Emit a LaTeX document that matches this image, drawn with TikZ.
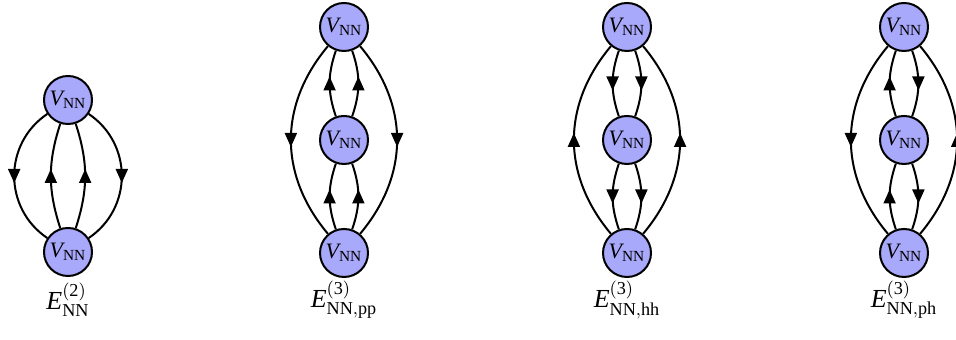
\documentclass[tikz,border=0pt]{standalone}
\usepackage{fontspec}
\setmainfont{Liberation Serif}
\usetikzlibrary{arrows.meta,decorations.markings}
\definecolor{vfill}{HTML}{A9A9FB}

\begin{document}
\begin{tikzpicture}[x=0.5pt,y=0.5pt,
  vertex/.style={circle, draw=black, line width=1pt, fill=vfill, minimum size=24pt, inner sep=0pt, font=\fontsize{11}{13}\selectfont},
  lab/.style={font=\fontsize{13}{15}\selectfont},
  prop/.style={line width=1pt, postaction={decorate},
    decoration={markings, mark=at position 0.5 with {\arrow[xshift=3.5pt]{Triangle[width=6pt,length=7pt]}}}}]
\useasboundingbox (0,0) rectangle (956,340);
\node[vertex] (t1) at (68,240)  {$\mathit{V}_{\mathrm{NN}}$};
\node[vertex] (b1) at (68,88)   {$\mathit{V}_{\mathrm{NN}}$};
\node[lab]    (l1) at (68,40)   {$\mathit{E}^{\mathrm{(2)}}_{\mathrm{NN}}$};
\node[vertex] (t2) at (344,313) {$\mathit{V}_{\mathrm{NN}}$};
\node[vertex] (m2) at (344,200) {$\mathit{V}_{\mathrm{NN}}$};
\node[vertex] (b2) at (344,87)  {$\mathit{V}_{\mathrm{NN}}$};
\node[lab]    (l2) at (344,40)  {$\mathit{E}^{\mathrm{(3)}}_{\mathrm{NN,pp}}$};
\node[vertex] (t3) at (627,313) {$\mathit{V}_{\mathrm{NN}}$};
\node[vertex] (m3) at (627,200) {$\mathit{V}_{\mathrm{NN}}$};
\node[vertex] (b3) at (627,87)  {$\mathit{V}_{\mathrm{NN}}$};
\node[lab]    (l3) at (627,40)  {$\mathit{E}^{\mathrm{(3)}}_{\mathrm{NN,hh}}$};
\node[vertex] (t4) at (904,313) {$\mathit{V}_{\mathrm{NN}}$};
\node[vertex] (m4) at (904,200) {$\mathit{V}_{\mathrm{NN}}$};
\node[vertex] (b4) at (904,87)  {$\mathit{V}_{\mathrm{NN}}$};
\node[lab]    (l4) at (904,40)  {$\mathit{E}^{\mathrm{(3)}}_{\mathrm{NN,ph}}$};
\draw[prop]   (t1) to[bend right=56, looseness=1.1] (b1);
\draw[prop]   (b1) to[bend left=18] (t1);
\draw[prop]   (b1) to[bend right=18] (t1);
\draw[prop]   (t1) to[bend left=56, looseness=1.1] (b1);
\draw[prop]   (t2) to[bend right=40, looseness=1.05] (b2);
\draw[prop]   (t2) to[bend left=40, looseness=1.05] (b2);
\draw[prop]   (m2) to[bend left=19] (t2);
\draw[prop]   (m2) to[bend right=19] (t2);
\draw[prop]   (b2) to[bend left=19] (m2);
\draw[prop]   (b2) to[bend right=19] (m2);
\draw[prop]   (b3) to[bend left=40, looseness=1.05] (t3);
\draw[prop]   (b3) to[bend right=40, looseness=1.05] (t3);
\draw[prop]   (t3) to[bend right=19] (m3);
\draw[prop]   (t3) to[bend left=19] (m3);
\draw[prop]   (m3) to[bend right=19] (b3);
\draw[prop]   (m3) to[bend left=19] (b3);
\draw[prop]   (t4) to[bend right=40, looseness=1.05] (b4);
\draw[prop]   (b4) to[bend right=40, looseness=1.05] (t4);
\draw[prop]   (m4) to[bend left=19] (t4);
\draw[prop]   (t4) to[bend left=19] (m4);
\draw[prop]   (b4) to[bend left=19] (m4);
\draw[prop]   (m4) to[bend left=19] (b4);
\end{tikzpicture}
\end{document}
